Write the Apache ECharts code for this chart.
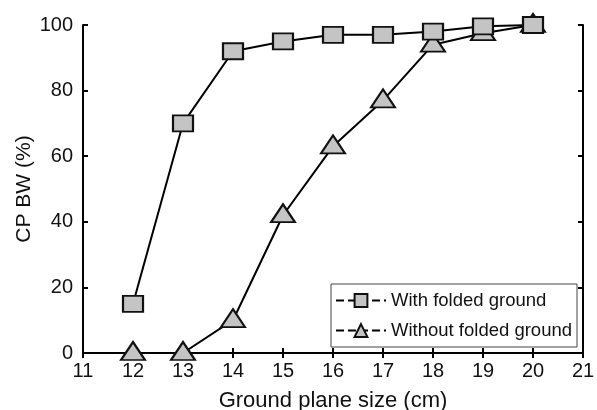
<!DOCTYPE html>
<html>
<head>
<meta charset="utf-8">
<script src="https://cdn.jsdelivr.net/npm/echarts@6/dist/echarts.min.js"></script>
<style>
html,body{margin:0;padding:0;background:#fff;}
#chart{width:597px;height:410px;}
</style>
</head>
<body>
<div id="chart"></div>
<script>
let sizes = [12,13,14,15,16,17,18,19,20];
let withFolded = [15,70,92,95,97,97,98,99.6,100];
let withoutFolded = [0,0,10,42,63,77,94,97.5,100];
let xTicks = [11,21,1];
let yTicks = [0,100,20];

let font = 'Liberation Sans, Arial, sans-serif';
let pair = (xs,ys)=>xs.map((x,i)=>[x,ys[i]]);

let chart = echarts.init(document.getElementById('chart'));

let axisCommon = {
  axisLine:{show:true,lineStyle:{color:'#000',width:2}},
  axisTick:{show:true,inside:true,length:5,lineStyle:{color:'#000',width:2}},
  splitLine:{show:false}
};

chart.setOption({
  animation:false,
  grid:{left:83,right:14,top:25,bottom:57,outerBoundsMode:'none',containLabel:false},
  legend:{
    orient:'vertical',
    left:331,
    top:284,
    backgroundColor:'#fff',
    borderColor:'#444',
    borderWidth:1,
    borderRadius:0,
    padding:[7,5,7,4],
    itemGap:11,
    itemWidth:50,
    itemHeight:16,
    textStyle:{fontFamily:font,fontSize:18.5,color:'#111'},
    lineStyle:{type:'dashed',width:2,color:'#000'},
    data:['With folded ground','Without folded ground']
  },
  xAxis:[
    Object.assign({
      type:'value',min:xTicks[0],max:xTicks[1],interval:xTicks[2],
      name:'Ground plane size (cm)',nameLocation:'middle',nameGap:37,
      nameMoveOverlap:false,
      nameTextStyle:{fontFamily:font,fontSize:22,color:'#111'},
      axisLabel:{fontFamily:font,fontSize:20,color:'#111',margin:8}
    },axisCommon),
    Object.assign({
      type:'value',min:xTicks[0],max:xTicks[1],interval:xTicks[2],position:'top',
      axisLabel:{show:false}
    },axisCommon)
  ],
  yAxis:[
    Object.assign({
      type:'value',min:yTicks[0],max:yTicks[1],interval:yTicks[2],
      name:'CP BW (%)',nameLocation:'middle',nameGap:48,
      nameMoveOverlap:false,
      nameTextStyle:{fontFamily:font,fontSize:21,color:'#111'},
      axisLabel:{fontFamily:font,fontSize:20,color:'#111',margin:10}
    },axisCommon),
    Object.assign({
      type:'value',min:yTicks[0],max:yTicks[1],interval:yTicks[2],position:'right',
      axisLabel:{show:false}
    },axisCommon)
  ],
  series:[
    {
      name:'With folded ground',
      type:'line',
      data:pair(sizes,withFolded),
      symbol:'rect',
      symbolSize:[20,16],
      lineStyle:{color:'#000',width:2},
      itemStyle:{color:'#c4c4c4',borderColor:'#111',borderWidth:2},
      z:3
    },
    {
      name:'Without folded ground',
      type:'line',
      data:pair(sizes,withoutFolded),
      symbol:'triangle',
      symbolSize:[24,18],
      symbolOffset:[0,-2],
      lineStyle:{color:'#000',width:2},
      itemStyle:{color:'#c4c4c4',borderColor:'#111',borderWidth:2},
      z:2
    }
  ]
});
</script>
</body>
</html>
